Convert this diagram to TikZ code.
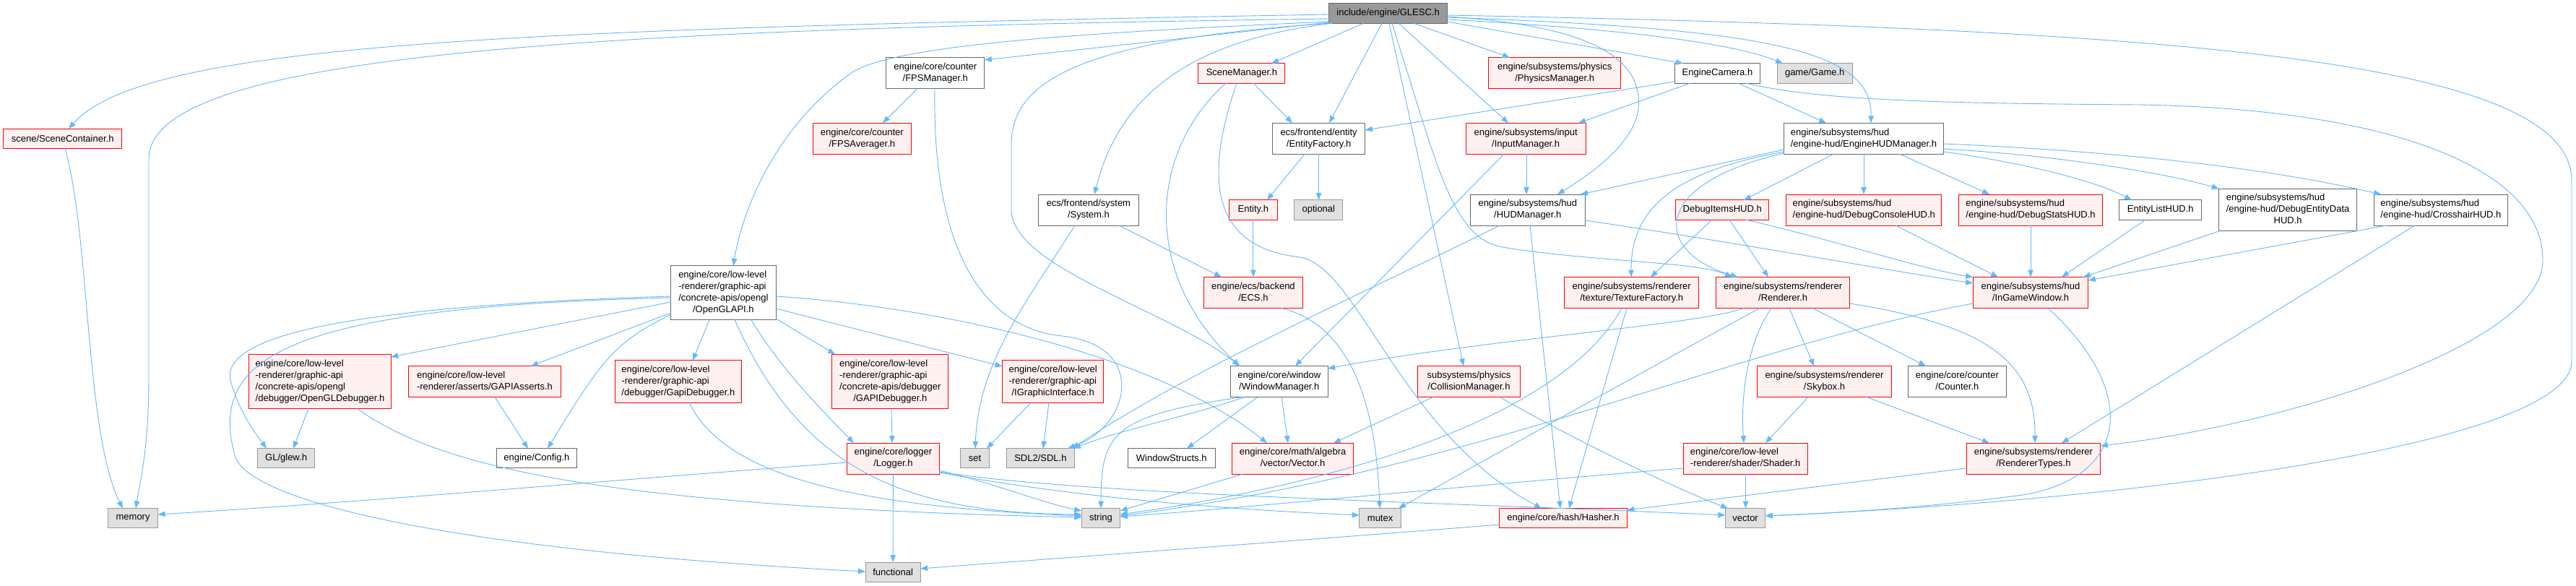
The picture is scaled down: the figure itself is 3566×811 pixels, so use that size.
\documentclass[tikz,border=0pt]{standalone}
\usepackage{fontspec}
\setmainfont{Liberation Sans}
\usetikzlibrary{arrows.meta,calc}
\definecolor{edgec}{HTML}{63B8FF}
\definecolor{redfill}{HTML}{FFF0F0}
\definecolor{redbd}{HTML}{FF0000}
\definecolor{graybd}{HTML}{666666}
\definecolor{extfill}{HTML}{E0E0E0}
\definecolor{extbd}{HTML}{999999}
\definecolor{rootfill}{HTML}{999999}
\definecolor{rootbd}{HTML}{666666}
\newcommand{\mlines}[1]{\begin{tabular}{@{}l@{}}#1\end{tabular}}
\newcommand{\lastc}[1]{\multicolumn{1}{@{}c@{}}{#1}}
\begin{document}
\begin{tikzpicture}[x=1pt,y=-1pt,
  nb/.style={rectangle, inner sep=0pt, outer sep=0pt, line width=1pt, font=\fontsize{13}{16}\selectfont, text=black, align=center},
  rootn/.style={nb, draw=rootbd, fill=rootfill},
  redn/.style={nb, draw=redbd, fill=redfill},
  whiten/.style={nb, draw=graybd, fill=white},
  extn/.style={nb, draw=extbd, fill=extfill},
  hA/.style={minimum height=27.3pt},
  hB/.style={minimum height=43pt},
  hC/.style={minimum height=58.6pt},
  hD/.style={minimum height=75pt},
  dep/.style={draw=edgec, line width=0.9pt, -{Triangle[length=10pt,width=7.5pt]}}]
\fill[white] (0,0) rectangle (3566,811);
\useasboundingbox (0,0) rectangle (3566,811);

% ---- nodes ----
\node[rootn,hA,minimum width=163.7pt] (root) at (1921.6,18.5) {include/engine/GLESC.h};
\node[redn,hA,minimum width=164.2pt] (sc) at (86.7,191.8) {scene/SceneContainer.h};
\node[extn,hA,minimum width=68.9pt] (memory) at (184.1,717.2) {memory};
\node[extn,hA,minimum width=79.6pt] (glew) at (396.1,634.3) {GL/glew.h};
\node[redn,hD,minimum width=196.3pt] (ogldbg) at (443,527.8) {\mlines{engine/core/low-level\\-renderer/graphic-api\\/concrete-apis/opengl\\\lastc{/debugger/OpenGLDebugger.h}}};
\node[redn,hB,minimum width=210.8pt] (asserts) at (671,528) {\mlines{engine/core/low-level\\\lastc{-renderer/asserts/GAPIAsserts.h}}};
\node[whiten,hA,minimum width=110.6pt] (config) at (742.9,634.3) {engine/Config.h};
\node[redn,hC,minimum width=175.7pt] (gapidbg) at (938.9,528) {\mlines{engine/core/low-level\\-renderer/graphic-api\\\lastc{/debugger/GapiDebugger.h}}};
\node[whiten,hD,minimum width=145.4pt] (ogl) at (1001.4,405.2) {\mlines{engine/core/low-level\\-renderer/graphic-api\\/concrete-apis/opengl\\\lastc{/OpenGLAPI.h}}};
\node[redn,hD,minimum width=161pt] (GAPIdbg) at (1232.3,527.8) {\mlines{engine/core/low-level\\-renderer/graphic-api\\/concrete-apis/debugger\\\lastc{/GAPIDebugger.h}}};
\node[redn,hB,minimum width=127.7pt] (logger) at (1236.4,634.7) {\mlines{engine/core/logger\\\lastc{/Logger.h}}};
\node[extn,hA,minimum width=76.1pt] (functional) at (1236.1,791.7) {functional};
\node[redn,hC,minimum width=140.5pt] (igi) at (1457.7,528) {\mlines{engine/core/low-level\\-renderer/graphic-api\\\lastc{/IGraphicInterface.h}}};
\node[extn,hA,minimum width=39.8pt] (set) at (1349.5,634.3) {set};
\node[extn,hA,minimum width=93.8pt] (sdl) at (1440.4,634.3) {SDL2/SDL.h};
\node[whiten,hA,minimum width=120.9pt] (wstructs) at (1621.7,634.3) {WindowStructs.h};
\node[extn,hA,minimum width=53.5pt] (string) at (1524,717.2) {string};
\node[whiten,hB,minimum width=134.6pt] (wm) at (1770.8,528) {\mlines{engine/core/window\\\lastc{/WindowManager.h}}};
\node[redn,hB,minimum width=167.5pt] (vec) at (1789.6,634.7) {\mlines{engine/core/math/algebra\\\lastc{/vector/Vector.h}}};
\node[extn,hA,minimum width=57.8pt] (mutex) at (1910.6,717.2) {mutex};
\node[redn,hA,minimum width=176.4pt] (hasher) at (2164,717.2) {engine/core/hash/Hasher.h};
\node[redn,hB,minimum width=141.2pt] (coll) at (2033.5,528) {\mlines{subsystems/physics\\\lastc{/CollisionManager.h}}};
\node[redn,hB,minimum width=186pt] (tex) at (2258.7,405) {\mlines{engine/subsystems/renderer\\\lastc{/texture/TextureFactory.h}}};
\node[redn,hB,minimum width=171.7pt] (shader) at (2416.2,634.7) {\mlines{engine/core/low-level\\\lastc{-renderer/shader/Shader.h}}};
\node[redn,hB,minimum width=185.6pt] (renderer) at (2468.1,405) {\mlines{engine/subsystems/renderer\\\lastc{/Renderer.h}}};
\node[redn,hB,minimum width=159.6pt] (igw) at (2811,405) {\mlines{engine/subsystems/hud\\\lastc{/InGameWindow.h}}};
\node[redn,hB,minimum width=185.6pt] (skybox) at (2525.5,528) {\mlines{engine/subsystems/renderer\\\lastc{/Skybox.h}}};
\node[whiten,hB,minimum width=135.4pt] (counter) at (2709.4,528) {\mlines{engine/core/counter\\\lastc{/Counter.h}}};
\node[redn,hB,minimum width=185.7pt] (rtypes) at (2814.9,634.7) {\mlines{engine/subsystems/renderer\\\lastc{/RendererTypes.h}}};
\node[extn,hA,minimum width=55.5pt] (vector) at (2416.1,717.2) {vector};
\node[extn,hA,minimum width=103.7pt] (game) at (2512.2,101.4) {game/Game.h};
\node[whiten,hA,minimum width=117.4pt] (camera) at (2377.5,101.4) {EngineCamera.h};
\node[whiten,hB,minimum width=220.5pt] (ehud) at (2580,191.8) {\mlines{engine/subsystems/hud\\\lastc{/engine-hud/EngineHUDManager.h}}};
\node[redn,hA,minimum width=128.5pt] (items) at (2384.2,290.5) {DebugItemsHUD.h};
\node[redn,hB,minimum width=214.7pt] (console) at (2580.3,290.5) {\mlines{engine/subsystems/hud\\\lastc{/engine-hud/DebugConsoleHUD.h}}};
\node[redn,hB,minimum width=198.6pt] (stats) at (2811,290.5) {\mlines{engine/subsystems/hud\\\lastc{/engine-hud/DebugStatsHUD.h}}};
\node[whiten,hA,minimum width=114.1pt] (elist) at (2990.8,290.5) {EntityListHUD.h};
\node[whiten,hC,minimum width=190.6pt] (dedata) at (3167.1,290.5) {\mlines{engine/subsystems/hud\\/engine-hud/DebugEntityData\\\lastc{HUD.h}}};
\node[whiten,hB,minimum width=185.8pt] (cross) at (3378.9,290.5) {\mlines{engine/subsystems/hud\\\lastc{/engine-hud/CrosshairHUD.h}}};
\node[redn,hB,minimum width=183.3pt] (physics) at (2152.2,101.2) {\mlines{engine/subsystems/physics\\\lastc{/PhysicsManager.h}}};
\node[redn,hB,minimum width=166.1pt] (input) at (2112.2,191.8) {\mlines{engine/subsystems/input\\\lastc{/InputManager.h}}};
\node[whiten,hB,minimum width=159.2pt] (hudm) at (2114.8,290.5) {\mlines{engine/subsystems/hud\\\lastc{/HUDManager.h}}};
\node[whiten,hB,minimum width=128.5pt] (efact) at (1825.6,191.8) {\mlines{ecs/frontend/entity\\\lastc{/EntityFactory.h}}};
\node[extn,hA,minimum width=67pt] (optional) at (1825.3,290.5) {optional};
\node[redn,hA,minimum width=66.6pt] (entity) at (1734.9,290.5) {Entity.h};
\node[redn,hB,minimum width=137.7pt] (ecs) at (1734.9,405) {\mlines{engine/ecs/backend\\\lastc{/ECS.h}}};
\node[redn,hA,minimum width=120.1pt] (scm) at (1718.9,101.4) {SceneManager.h};
\node[whiten,hB,minimum width=139.3pt] (system) at (1506.9,290.5) {\mlines{ecs/frontend/system\\\lastc{/System.h}}};
\node[redn,hB,minimum width=135.7pt] (fpsavg) at (1193.3,191.8) {\mlines{engine/core/counter\\\lastc{/FPSAverager.h}}};
\node[whiten,hB,minimum width=136.2pt] (fps) at (1294.8,101) {\mlines{engine/core/counter\\\lastc{/FPSManager.h}}};

% ---- edges from root ----
\draw[dep] (root.west |- 0,20) .. controls (700,40) and (200,60) .. (sc.north -| 95,0);
\draw[dep] (root.west |- 0,26) .. controls (800,40) and (206,75) .. (206,220) -- (206,520) .. controls (206,620) and (195,660) .. (memory.north -| 188,0);
\draw[dep] (sc.south -| 90,0) .. controls (125,330) and (118,600) .. (memory.north -| 170,0);
\draw[dep] (root.west |- 0,30) .. controls (1500,45) and (1240,62) .. (1180,100) .. controls (1080,170) and (1030,280) .. (ogl.north -| 1015,0);
\draw[dep] (root.west |- 0,31) -- (fps.east |- 0,83);
\draw[dep] (root.south -| 1845,0) .. controls (1650,55) and (1550,130) .. (system.north -| 1515,0);
\draw[dep] (root.south -| 1842,0) .. controls (1500,55) and (1400,110) .. (1400,200) -- (1400,290) .. controls (1400,370) and (1620,430) .. (wm.north -| 1716,0);
\draw[dep] (root.south -| 1888,0) -- (scm.north -| 1760,0);
\draw[dep] (root.south -| 1913,0) -- (efact.north -| 1840,0);
\draw[dep] (root.south -| 1957,0) -- (physics.north -| 2090,0);
\draw[dep] (root.south -| 1936,0) -- (input.north -| 2088,0);
\draw[dep] (root.east |- 0,23) .. controls (2200,35) and (2275,80) .. (2268,150) .. controls (2264,190) and (2220,230) .. (hudm.north -| 2156,0);
\draw[dep] (root.east |- 0,30) -- (camera.north -| 2330,0);
\draw[dep] (root.east |- 0,27) .. controls (2250,40) and (2400,60) .. (game.north -| 2468,0);
\draw[dep] (root.east |- 0,24) .. controls (2450,40) and (2592,70) .. (ehud.north -| 2590,0);
\draw[dep] (root.east |- 0,21) .. controls (3000,40) and (3560,80) .. (3560,250) -- (3560,500) .. controls (3560,610) and (3000,690) .. (vector.east |- 0,714);
\draw[dep] (root.south -| 1923,0) -- (coll.north -| 2026,0);
\draw[dep] (root.south -| 1927,0) .. controls (1990,230) and (2010,330) .. (2080,342) .. controls (2200,362) and (2350,362) .. (renderer.north -| 2398,0);

% ---- camera ----
\draw[dep] (camera.west |- 0,113) -- (efact.east |- 0,180);
\draw[dep] (camera.south -| 2340,0) -- (input.north -| 2185,0);
\draw[dep] (camera.south -| 2406,0) -- (ehud.north -| 2528,0);
\draw[dep] (camera.south -| 2417,0) .. controls (2520,140) and (2700,143) .. (2960,145) .. controls (3300,150) and (3520,230) .. (3520,360) .. controls (3520,480) and (3150,590) .. (rtypes.east |- 0,617);

% ---- engine hud manager ----
\draw[dep] (ehud.west |- 0,207) -- (hudm.north -| 2188,0);
\draw[dep] (ehud.west |- 0,210) .. controls (2300,240) and (2258,300) .. (tex.north -| 2258,0);
\draw[dep] (ehud.west |- 0,212) .. controls (2280,255) and (2290,350) .. (renderer.north -| 2406,0);
\draw[dep] (ehud.south -| 2538,0) -- (items.north -| 2414,0);
\draw[dep] (ehud.south -| 2580,0) -- (console.north -| 2580,0);
\draw[dep] (ehud.south -| 2630,0) -- (stats.north -| 2754,0);
\draw[dep] (ehud.east |- 0,210) .. controls (2800,225) and (2900,250) .. (elist.north -| 2951,0);
\draw[dep] (ehud.east |- 0,206) .. controls (2850,215) and (3000,240) .. (dedata.north west);
\draw[dep] (ehud.east |- 0,199) .. controls (2950,210) and (3150,235) .. (cross.north -| 3296,0);

% ---- hud items ----
\draw[dep] (items.south -| 2370,0) -- (tex.north -| 2285,0);
\draw[dep] (items.south -| 2394,0) -- (renderer.north -| 2448,0);
\draw[dep] (items.south -| 2417,0) .. controls (2550,335) and (2650,370) .. (igw.north west);
\draw[dep] (hudm.east |- 0,305) .. controls (2400,335) and (2600,372) .. (igw.west |- 0,392);
\draw[dep] (hudm.south -| 2076,0) .. controls (1900,400) and (1650,510) .. (sdl.north -| 1484,0);
\draw[dep] (hudm.south -| 2118,0) -- (hasher.north -| 2160,0);
\draw[dep] (input.south -| 2113,0) -- (hudm.north -| 2113,0);
\draw[dep] (input.south -| 2082,0) -- (wm.north -| 1793,0);
\draw[dep] (cross.south -| 3304,0) -- (igw.east |- 0,388);
\draw[dep] (cross.south -| 3343,0) -- (rtypes.north -| 2854,0);
\draw[dep] (dedata.south -| 3072,0) -- (igw.north -| 2884,0);
\draw[dep] (elist.south -| 2970,0) -- (igw.north -| 2854,0);
\draw[dep] (stats.south) -- (igw.north);
\draw[dep] (console.south -| 2624,0) -- (igw.north -| 2766,0);

% ---- scene / ecs ----
\draw[dep] (scm.south -| 1735,0) -- (efact.north -| 1789,0);
\draw[dep] (scm.south -| 1697,0) .. controls (1590,210) and (1580,380) .. (wm.north -| 1716,0);
\draw[dep] (scm.south -| 1712,0) .. controls (1655,280) and (1700,345) .. (1800,356) .. controls (1880,370) and (1940,600) .. (hasher.north -| 2134,0);
\draw[dep] (efact.south -| 1806,0) -- (entity.north -| 1754,0);
\draw[dep] (efact.south -| 1825.5,0) -- (optional.north -| 1825.5,0);
\draw[dep] (entity.south) -- (ecs.north);
\draw[dep] (system.south -| 1549,0) -- (ecs.north -| 1691,0);
\draw[dep] (system.south -| 1488,0) .. controls (1420,420) and (1355,500) .. (set.north -| 1350,0);
\draw[dep] (ecs.south -| 1774,0) .. controls (1870,450) and (1905,560) .. (mutex.north -| 1910,0);
\draw[dep] (fps.south -| 1270,0) -- (fpsavg.north -| 1222,0);
\draw[dep] (fps.south -| 1294,0) .. controls (1290,360) and (1370,455) .. (1470,465) .. controls (1590,478) and (1565,590) .. (sdl.north -| 1478,0);

% ---- OpenGL API ----
\draw[dep] (ogl.west |- 0,418) -- (ogldbg.east |- 0,494);
\draw[dep] (ogl.west |- 0,410) .. controls (450,425) and (300,470) .. (320,530) .. controls (332,570) and (350,595) .. (glew.north -| 369,0);
\draw[dep] (ogl.west |- 0,412) .. controls (380,425) and (290,500) .. (325,630) .. controls (340,690) and (600,760) .. (functional.west |- 0,791);
\draw[dep] (ogl.west |- 0,433) -- (asserts.north -| 735,0);
\draw[dep] (ogl.west |- 0,435) .. controls (850,475) and (835,495) .. (config.north -| 758,0);
\draw[dep] (ogl.south -| 982,0) -- (gapidbg.north -| 959,0);
\draw[dep] (ogl.south -| 1017,0) .. controls (1110,650) and (1250,710) .. (string.west |- 0,712);
\draw[dep] (ogl.south -| 1040,0) .. controls (1080,510) and (1140,570) .. (logger.north -| 1182,0);
\draw[dep] (ogl.east |- 0,441) -- (GAPIdbg.north -| 1156,0);
\draw[dep] (ogl.east |- 0,427) -- (igi.west |- 0,507);
\draw[dep] (ogl.east |- 0,410) .. controls (1300,425) and (1600,490) .. (vec.north -| 1754,0);

% ---- low level ----
\draw[dep] (ogldbg.south -| 427,0) -- (glew.north -| 406,0);
\draw[dep] (ogldbg.south -| 494,0) .. controls (600,640) and (800,700) .. (string.west |- 0,716);
\draw[dep] (asserts.south -| 685,0) -- (config.north -| 731,0);
\draw[dep] (gapidbg.south -| 954,0) .. controls (1000,650) and (1150,700) .. (string.west |- 0,714);
\draw[dep] (GAPIdbg.south -| 1234,0) -- (logger.north -| 1235,0);
\draw[dep] (igi.south -| 1427,0) -- (set.north -| 1366,0);
\draw[dep] (igi.south -| 1452,0) -- (sdl.north -| 1444,0);
\draw[dep] (logger.south) -- (functional.north);
\draw[dep] (logger.east |- 0,651) .. controls (1380,670) and (1440,695) .. (string.west |- 0,707);
\draw[dep] (logger.west |- 0,640) .. controls (780,670) and (500,695) .. (memory.east |- 0,712);
\draw[dep] (logger.east |- 0,654) .. controls (1500,690) and (1700,705) .. (mutex.west |- 0,713);
\draw[dep] (logger.east |- 0,653) .. controls (1500,685) and (2000,695) .. (vector.west |- 0,713);

% ---- window / math ----
\draw[dep] (wm.south -| 1741,0) -- (wstructs.north -| 1643,0);
\draw[dep] (wm.south -| 1723,0) .. controls (1650,575) and (1550,595) .. (sdl.north -| 1486,0);
\draw[dep] (wm.south -| 1720,0) .. controls (1540,575) and (1524,600) .. (string.north -| 1524,0);
\draw[dep] (wm.south -| 1774,0) -- (vec.north -| 1783,0);
\draw[dep] (vec.south -| 1720,0) -- (string.east |- 0,707);
\draw[dep] (coll.south -| 1984,0) -- (vec.north -| 1846,0);
\draw[dep] (coll.south -| 2076,0) .. controls (2200,620) and (2330,680) .. (vector.north -| 2392,0);

% ---- renderer ----
\draw[dep] (tex.south -| 2252,0) -- (hasher.north -| 2172,0);
\draw[dep] (tex.south -| 2245,0) .. controls (2160,580) and (1850,670) .. (string.east |- 0,712);
\draw[dep] (renderer.south -| 2414,0) .. controls (2350,450) and (2050,470) .. (wm.east |- 0,510);
\draw[dep] (renderer.south -| 2436,0) .. controls (2300,500) and (2050,640) .. (mutex.north -| 1936,0);
\draw[dep] (renderer.south -| 2452,0) .. controls (2415,480) and (2410,560) .. (shader.north -| 2414,0);
\draw[dep] (renderer.south -| 2477,0) -- (skybox.north -| 2511,0);
\draw[dep] (renderer.south -| 2509,0) -- (counter.north -| 2666,0);
\draw[dep] (renderer.east |- 0,420) .. controls (2750,450) and (2818,500) .. (rtypes.north -| 2817,0);
\draw[dep] (igw.west |- 0,420) .. controls (2400,480) and (2050,650) .. (string.east |- 0,714);
\draw[dep] (igw.south -| 2835,0) .. controls (2960,540) and (2950,660) .. (2800,685) .. controls (2650,705) and (2500,712) .. (vector.east |- 0,714);
\draw[dep] (skybox.south -| 2503,0) -- (shader.north -| 2444,0);
\draw[dep] (skybox.south -| 2584,0) -- (rtypes.north -| 2754,0);
\draw[dep] (shader.south -| 2416.5,0) -- (vector.north -| 2416.5,0);
\draw[dep] (shader.west |- 0,648) .. controls (2000,675) and (1700,705) .. (string.east |- 0,715);
\draw[dep] (rtypes.west |- 0,648) -- (hasher.east |- 0,706);
\draw[dep] (hasher.west |- 0,726) .. controls (1800,748) and (1500,770) .. (functional.east |- 0,787);
\end{tikzpicture}
\end{document}
